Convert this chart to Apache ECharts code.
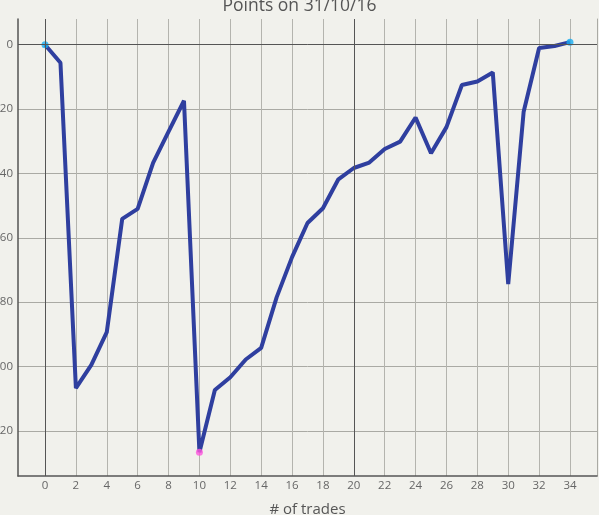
<!DOCTYPE html>
<html><head><meta charset="utf-8">
<script src="https://cdn.jsdelivr.net/npm/echarts@6/dist/echarts.min.js"></script>
<style>html,body{margin:0;padding:0;background:#f1f1ec}#c{width:599px;height:515px}</style>
</head><body><div id="c"></div>
<script>
const titleText = 'Points on 31/10/16';
const xName = '# of trades';
const trades = [0,1,2,3,4,5,6,7,8,9,10,11,12,13,14,15,16,17,18,19,20,21,22,23,24,25,26,27,28,29,30,31,32,33,34];
const points = [0,-5.6,-106.7,-99.5,-89.3,-54.1,-51,-36.7,-27,-17.4,-126.6,-107.3,-103.3,-97.8,-94.2,-78.5,-66,-55.4,-50.8,-41.8,-38.3,-36.6,-32.4,-30.1,-22.6,-33.7,-25.6,-12.5,-11.4,-8.6,-74.4,-20.8,-1.0,-0.4,0.8];
const xTicks = [0,2,4,6,8,10,12,14,16,18,20,22,24,26,28,30,32,34];
const yTicks = [0,-20,-40,-60,-80,-100,-120];
const xRange = [-1.75, 35.75];
const yRange = [-134, 8];

const lineData = trades.map((t,i)=>[t, points[i]]);
let minI = 0; points.forEach((v,i)=>{ if (v < points[minI]) minI = i; });
const endPts = [lineData[0], lineData[lineData.length-1]];
const minPts = [lineData[minI]];

const font = 'Open Sans';
const chart = echarts.init(document.getElementById('c'));
chart.setOption({
  backgroundColor: '#f1f1ec',
  animation: false,
  title: { text: titleText, left: 'center', top: -8,
    textStyle: { fontFamily: font, fontSize: 17.5, fontWeight: 'normal', color: '#555' } },
  grid: { left: 18, right: 2, top: 19, bottom: 39, containLabel: false, outerBoundsMode: 'none' },
  xAxis: {
    type: 'value', min: xRange[0], max: xRange[1],
    name: xName, nameLocation: 'middle', nameGap: 26,
    nameTextStyle: { fontFamily: font, fontSize: 15, color: '#555' },
    axisLine: { onZero: false, lineStyle: { color: '#555', width: 1.5 } },
    axisTick: { show: false, customValues: xTicks },
    axisLabel: { customValues: xTicks, fontFamily: font, fontSize: 11.5, color: '#666', margin: 4 },
    splitLine: { show: true, lineStyle: { color: '#b4b4ae', width: 1 } }
  },
  yAxis: [{
    type: 'value', min: yRange[0], max: yRange[1],
    axisLine: { show: true, onZero: false, lineStyle: { color: '#555', width: 1.5 } },
    axisTick: { show: false, customValues: yTicks },
    axisLabel: { customValues: yTicks, fontFamily: font, fontSize: 11.5, color: '#666', margin: 5 },
    splitLine: { show: true, lineStyle: { color: '#aaaaa4', width: 1 } }
  }, {
    type: 'value', min: yRange[0], max: yRange[1], position: 'right',
    axisLine: { show: true, onZero: false, lineStyle: { color: '#aaaaa4', width: 1 } },
    axisTick: { show: false }, axisLabel: { show: false }, splitLine: { show: false }
  }],
  series: [{
    type: 'line', data: lineData, symbol: 'none', z: 3,
    lineStyle: { color: '#2f3f9f', width: 4 },
    markLine: { silent: true, symbol: 'none', label: { show: false },
      lineStyle: { color: '#555', width: 1, type: 'solid' },
      data: [{ xAxis: 0 }, { xAxis: 20 }, { yAxis: 0 }] }
  }, {
    type: 'scatter', data: endPts, symbolSize: 7, z: 4,
    itemStyle: { color: '#19aef2' }
  }, {
    type: 'scatter', data: minPts, symbolSize: 7, z: 4,
    itemStyle: { color: '#ff55dd' }
  }]
});
</script></body></html>
